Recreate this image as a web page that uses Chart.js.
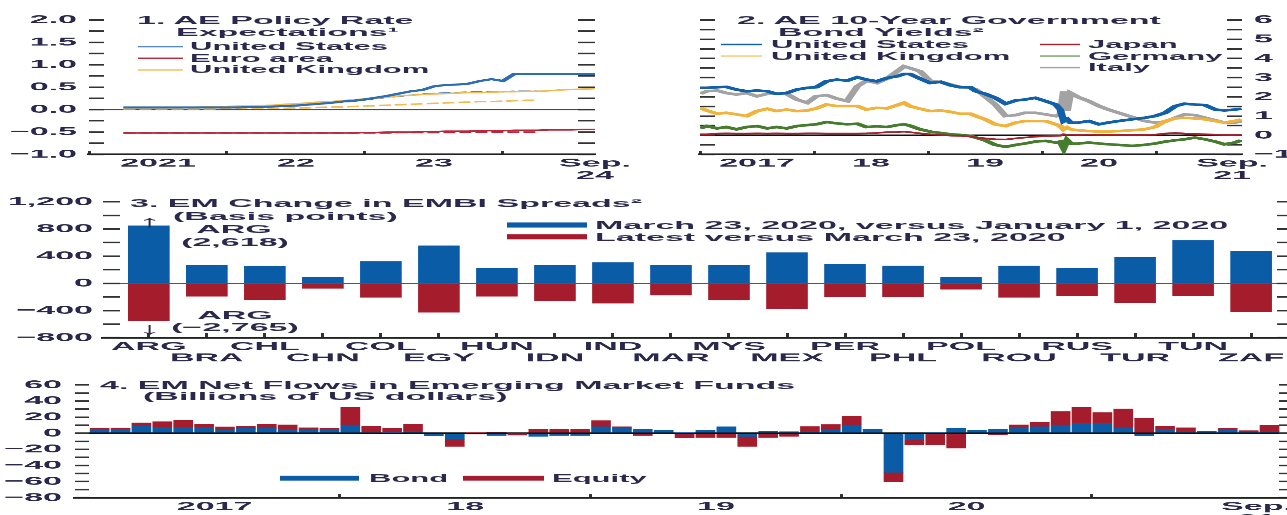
<!DOCTYPE html>
<html><head><meta charset="utf-8">
<script src="https://cdn.jsdelivr.net/npm/chart.js@4.4.0/dist/chart.umd.min.js"></script>
<style>
html,body{margin:0;padding:0;overflow:hidden;background:#fff;width:1287px;height:515px;}
#stage{position:absolute;left:0;top:0;width:1320px;transform-origin:0 0;}
.box{position:absolute;}
.txt{position:absolute;white-space:nowrap;font-family:'Liberation Sans',Arial,Helvetica,sans-serif;font-weight:bold;color:#2a284c;}
.sw{position:absolute;}
</style></head><body><div id="stage"></div>
<script>
// ================= DATA =================
// Panel 1: AE policy rate expectations (percent), monthly forward curve
const policyMonths = ['2021-04','2021-05','2021-06','2021-07','2021-08','2021-09','2021-10','2021-11','2021-12',
 '2022-01','2022-02','2022-03','2022-04','2022-05','2022-06','2022-07','2022-08','2022-09','2022-10','2022-11','2022-12',
 '2023-01','2023-02','2023-03','2023-04','2023-05','2023-06','2023-07','2023-08','2023-09','2023-10','2023-11','2023-12',
 '2024-01','2024-02','2024-03','2024-04','2024-05','2024-06','2024-07','2024-08','2024-09'];
const usNow  = [0.05,0.05,0.05,0.05,0.05,0.05,0.05,0.05,0.05, 0.05,0.05,0.06,0.06,0.07,0.08,0.09,0.11,0.13,0.15,0.18,0.20, 0.23,0.27,0.31,0.36,0.41,0.44,0.52,0.55,0.56,0.58,0.64,0.68, 0.64,0.80,0.80,0.80,0.80,0.80,0.80,0.80,0.80];
const usPrev = [0.05,0.05,0.05,0.05,0.05,0.05,0.05,0.05,0.05, 0.06,0.06,0.07,0.08,0.09,0.10,0.11,0.12,0.14,0.15,0.17,0.19, 0.22,0.25,0.28,0.30,0.32,0.35,0.36,0.37,0.38,0.39,0.39,0.40, 0.40,0.41,0.41,0.41,null,null,null,null,null];
const ukNow  = [0.02,0.03,0.03,0.04,0.04,0.05,0.05,0.06,0.06, 0.07,0.08,0.08,0.09,0.10,0.12,0.13,0.15,0.17,0.18,0.20,0.22, 0.24,0.26,0.28,0.31,0.32,0.34,0.35,0.36,0.37,0.38,0.38,0.39, 0.40,0.40,0.41,0.41,0.42,0.44,0.45,0.46,0.47];
const ukPrev = [0.02,0.02,0.02,0.02,0.02,0.02,0.02,0.02,0.02, 0.03,0.03,0.03,0.03,0.03,0.03,0.04,0.04,0.05,0.06,0.06,0.07, 0.08,0.09,0.10,0.11,0.12,0.13,0.14,0.15,0.16,0.17,0.18,0.18, 0.19,0.20,0.21,0.21,null,null,null,null,null];
const euNow  = [-0.52,-0.52,-0.52,-0.52,-0.52,-0.52,-0.52,-0.52,-0.52, -0.52,-0.52,-0.52,-0.52,-0.52,-0.52,-0.52,-0.52,-0.52,-0.52,-0.52,-0.52, -0.51,-0.51,-0.50,-0.50,-0.50,-0.49,-0.49,-0.48,-0.48,-0.48,-0.47,-0.47, -0.47,-0.46,-0.46,-0.46,-0.45,-0.45,-0.45,-0.44,-0.44];
const euPrev = [-0.52,-0.52,-0.52,-0.52,-0.52,-0.52,-0.52,-0.52,-0.52, -0.52,-0.52,-0.52,-0.52,-0.52,-0.52,-0.52,-0.52,-0.52,-0.52,-0.52,-0.52, -0.52,-0.52,-0.52,-0.51,-0.51,-0.51,-0.51,-0.51,-0.51,-0.50,-0.50,-0.50, -0.50,-0.50,-0.50,-0.50,null,null,null,null,null];
const p1YearMarks = [2021, 2022, 2023, 2024];
const p1LabelPos  = [2021.5, 2022.5, 2023.5, 2024.667];
const p1Labels    = ['2021', '22', '23', ['Sep.', '24']];

// Panel 2: AE 10-year government bond yields (percent)
const bondDates = [2017.00,2017.06,2017.15,2017.23,2017.32,2017.41,2017.50,2017.59,2017.67,2017.76,2017.85,2017.94,
 2018.02,2018.11,2018.20,2018.29,2018.38,2018.46,2018.55,2018.64,2018.73,2018.79,2018.84,2018.93,
 2019.02,2019.11,2019.20,2019.28,2019.37,2019.42,2019.50,2019.59,2019.68,2019.77,2019.85,2019.94,
 2020.03,2020.12,2020.16,2020.19,2020.22,2020.25,2020.32,2020.41,2020.50,2020.58,2020.67,2020.79,2020.90,2020.99,
 2021.08,2021.17,2021.25,2021.34,2021.43,2021.52,2021.60,2021.69,2021.75];
const yUS = [2.47,2.47,2.50,2.52,2.38,2.29,2.33,2.29,2.16,2.20,2.38,2.47,2.50,2.81,2.90,2.84,3.02,2.90,2.81,2.98,3.07,3.19,3.19,2.95,2.72,2.78,2.60,2.50,2.50,
 2.29,2.16,1.95,1.64,1.81,1.86,1.95,1.78,1.60,1.34,0.74,0.83,0.66,0.66,0.74,0.57,0.66,0.74,0.83,0.91,1.00,1.17,1.52,1.64,1.60,1.57,1.34,1.29,1.34,1.38];
const yUK = [1.43,1.29,1.12,1.17,1.09,1.00,1.26,1.38,1.26,1.34,1.26,1.29,1.40,1.60,1.52,1.52,1.52,1.34,1.43,1.40,1.57,1.69,1.52,1.38,1.26,1.29,1.22,1.12,1.12,
 1.00,0.83,0.57,0.48,0.66,0.74,0.74,0.74,0.57,0.48,0.31,0.40,0.31,0.26,0.22,0.19,0.19,0.22,0.26,0.31,0.43,0.74,0.88,0.91,0.88,0.83,0.74,0.66,0.74,0.83];
const yJP = [0.05,0.05,0.09,0.10,0.09,0.09,0.10,0.09,0.10,0.09,0.09,0.10,0.10,0.09,0.09,0.09,0.09,0.10,0.12,0.16,0.17,0.19,0.16,0.10,0.05,0.02,-0.02,-0.03,-0.07,
 -0.12,-0.16,-0.21,-0.22,-0.16,-0.12,-0.07,-0.05,-0.03,-0.02,0.05,0.02,0.03,0.02,0.03,0.02,0.02,0.02,0.02,0.02,0.03,0.09,0.12,0.09,0.07,0.05,0.03,0.02,0.02,0.03];
const yDE = [0.36,0.48,0.36,0.43,0.31,0.43,0.48,0.36,0.43,0.36,0.48,0.53,0.57,0.69,0.62,0.57,0.60,0.43,0.47,0.43,0.53,0.57,0.50,0.31,0.19,0.12,0.05,0.02,-0.03,
 -0.12,-0.26,-0.50,-0.60,-0.50,-0.43,-0.33,-0.29,-0.38,-0.33,-0.67,-0.26,-0.43,-0.43,-0.38,-0.43,-0.47,-0.50,-0.55,-0.50,-0.43,-0.33,-0.26,-0.21,-0.12,-0.21,-0.33,-0.47,-0.38,-0.26];
const yIT = [2.16,2.29,2.33,2.20,2.12,2.20,2.03,2.16,2.16,2.16,1.86,1.69,2.03,2.09,1.91,1.78,2.55,2.84,2.72,2.95,3.33,3.59,3.50,3.33,2.81,2.78,2.64,2.52,2.47,
 2.38,2.03,1.60,1.00,1.05,1.17,1.17,1.09,1.00,1.09,2.29,1.26,2.20,1.98,1.78,1.52,1.34,1.17,0.95,0.74,0.66,0.71,0.91,1.09,1.05,0.91,0.78,0.66,0.66,0.74];
const p2YearMarks = [2017, 2018, 2019, 2020, 2021];
const p2LabelPos  = [2017.5, 2018.5, 2019.5, 2020.5, 2021.667];
const p2Labels    = ['2017', '18', '19', '20', ['Sep.', '21']];

// Panel 3: EM change in EMBI spreads (basis points)
const embiCountries = ['ARG','BRA','CHL','CHN','COL','EGY','HUN','IDN','IND','MAR','MYS','MEX','PER','PHL','POL','ROU','RUS','TUR','TUN','ZAF'];
const embiMarVsJan    = [2618, 270, 255, 88, 324, 555, 221, 270, 309, 267, 267, 454, 281, 257, 89, 257, 222, 385, 632, 479];
const embiLatestVsMar = [-2765, -191, -240, -74, -206, -427, -191, -255, -294, -173, -247, -380, -198, -198, -89, -207, -183, -286, -183, -420];
const embiCapTop = 850, embiCapBottom = -550;   // axis break for ARG

// Panel 4: EM net flows in EM funds (billions of US dollars), monthly Jan 2017 - Sep 2021
const flowMonths = ['2017-01','2017-02','2017-03','2017-04','2017-05','2017-06','2017-07','2017-08','2017-09','2017-10','2017-11','2017-12',
 '2018-01','2018-02','2018-03','2018-04','2018-05','2018-06','2018-07','2018-08','2018-09','2018-10','2018-11','2018-12',
 '2019-01','2019-02','2019-03','2019-04','2019-05','2019-06','2019-07','2019-08','2019-09','2019-10','2019-11','2019-12',
 '2020-01','2020-02','2020-03','2020-04','2020-05','2020-06','2020-07','2020-08','2020-09','2020-10','2020-11','2020-12',
 '2021-01','2021-02','2021-03','2021-04','2021-05','2021-06','2021-07','2021-08','2021-09'];
const bondFlows   = [5,5,9,7.5,7.5,7.5,4,6,6,5,4,5, 10.4,1,0.8,3,-3.5,-7.5,-1,-3,-0.5,-4,-3,-3, 8.3,6,5,4,0.5,4,8.3,-4,3,2,3,4, 10.4,5,-48.7,-8.3,0.8,6,4,5,7.5,8.3,10.4,12.5, 12.5,7,-3.3,5,2,3,5,2,2];
const equityFlows = [1.5,1.5,4,7,9,4,4,3,5.5,5.5,3,1.3, 22,8,5.5,8.5,0,-9,0.5,1.5,-2,5,5,5, 7.5,2.3,-3,0,-6,-5.5,-5.5,-12.5,-5.5,-4,5.5,7, 11,0,-11.7,-6,-14.6,-18.7,0,-2,3,5.5,16.7,20, 13.3,23.4,18.7,4,5,0,1.3,1.3,8];
const p4YearMarks = [11.5, 23.5, 35.5, 47.5];
const p4LabelPos  = [5.5, 17.5, 29.5, 41.5, 55.4];
const p4Labels    = ['2017', '18', '19', '20', ['Sep.', '21']];

// ================= STYLE / LAYOUT =================
const K = 2.9;                        // vertical squash of the whole figure
const TEXT = '#2a284c', TICK = '#333', AXIS = '#222';
const FONT = "'Liberation Sans', Arial, Helvetica, sans-serif";
const BLUE = '#0b5ca6', RED = '#a51d2d';

const stage = document.getElementById('stage');
stage.style.height = (530 * K) + 'px';
stage.style.transform = 'scaleY(' + (1 / K) + ')';

Chart.defaults.font.family = FONT;
Chart.defaults.font.weight = 'bold';
Chart.defaults.font.size = 34;
Chart.defaults.color = TEXT;
Chart.defaults.animation = false;
Chart.defaults.plugins.legend.display = false;
Chart.defaults.plugins.tooltip.enabled = false;

const near = (a, b) => Math.abs(a - b) < 1e-6;
const isMult = (v, s) => near(Math.round(v / s) * s, v);
function range(a, b, s) { const r = []; const n = Math.round((b - a) / s); for (let i = 0; i <= n; i++) r.push(+(a + i * s).toFixed(6)); return r; }
const toYear = s => +s.slice(0, 4) + (+s.slice(5, 7) - 1) / 12;
const pts = (xs, ys) => xs.map((x, i) => ({ x: x, y: ys[i] })).filter(p => p.y !== null && p.y !== undefined);
const minus = v => (v < 0 ? '\u2212' : '');

function addBox(left, top, width, height) {
  const b = document.createElement('div'); b.className = 'box';
  b.style.left = left + 'px'; b.style.top = (top * K) + 'px';
  b.style.width = width + 'px'; b.style.height = (height * K) + 'px';
  const c = document.createElement('canvas');
  c.width = width; c.height = Math.round(height * K);
  b.appendChild(c); stage.appendChild(b); return c;
}
function addText(str, x, yc, size, opt) {
  opt = opt || {};
  const d = document.createElement('div'); d.className = 'txt';
  const lh = size * 1.15;
  d.style.fontSize = size + 'px'; d.style.lineHeight = lh + 'px';
  d.style.top = (yc * K - lh / 2) + 'px'; d.style.left = x + 'px';
  if (opt.center) d.style.transform = 'translateX(-50%)';
  if (opt.weight) d.style.fontWeight = opt.weight;
  d.textContent = str; stage.appendChild(d); return d;
}
function addSwatch(x1, x2, yc, h, color) {
  const d = document.createElement('div'); d.className = 'sw';
  d.style.left = x1 + 'px'; d.style.width = (x2 - x1) + 'px';
  d.style.top = (yc * K - h / 2) + 'px'; d.style.height = h + 'px'; d.style.background = color;
  stage.appendChild(d);
}

function yAxis(o) {
  return {
    type: 'linear', position: o.pos, min: o.min, max: o.max, z: o.z || 0,
    afterBuildTicks: s => { s.ticks = range(o.min, o.max, o.step).map(v => ({ value: v })); },
    ticks: {
      display: !!o.fmt, autoSkip: false, padding: (o.gap || 0) + o.tick, color: TEXT,
      font: { size: 34, weight: 'bold' },
      callback: v => (o.fmt && isMult(v, o.labelStep)) ? o.fmt(v) : ''
    },
    grid: {
      drawOnChartArea: !!o.zero, drawTicks: true, tickLength: -o.tick, tickColor: TICK, tickWidth: 4.5,
      color: c => (o.zero && c.tick && near(c.tick.value, 0)) ? o.zero.color : 'rgba(0,0,0,0)',
      lineWidth: c => (o.zero && c.tick && near(c.tick.value, 0)) ? o.zero.width : 0
    },
    border: { display: false },
    afterFit: s => { s.width = o.width; s.paddingTop = 0; s.paddingBottom = 0; }
  };
}
function xAxis(o) {
  const vals = Array.from(new Set(o.marks.concat(o.labelPos))).sort((a, b) => a - b);
  const lh = 34 * o.lh;
  return {
    type: 'linear', position: 'bottom', min: o.min, max: o.max, offset: false, stacked: !!o.stacked,
    afterBuildTicks: s => { s.ticks = vals.map(v => ({ value: v })); },
    ticks: {
      autoSkip: false, maxRotation: 0, minRotation: 0, color: TEXT,
      padding: 26 + o.tick - lh / 2,
      font: { size: 34, weight: 'bold', lineHeight: o.lh },
      callback: v => { const i = o.labelPos.findIndex(p => near(p, v)); return i >= 0 ? o.labels[i] : ''; }
    },
    grid: {
      offset: false, drawOnChartArea: false, drawTicks: true, tickLength: -o.tick, tickWidth: 3,
      tickColor: c => (c.tick && o.marks.some(m => near(m, c.tick.value))) ? TICK : 'rgba(0,0,0,0)'
    },
    border: { display: true, color: AXIS, width: 5 },
    afterFit: s => { s.height = o.height; s.paddingLeft = 0; s.paddingRight = 0; }
  };
}

// ================= PANEL 1 =================
const pm = policyMonths.map(toYear);
const c1 = addBox(0, 0, 640, 185);
new Chart(c1, {
  type: 'line',
  data: { datasets: [
    { data: pts(pm, usNow),  borderColor: '#2d6db5', borderWidth: 6 },
    { data: pts(pm, ukNow),  borderColor: '#f3bb55', borderWidth: 4.5 },
    { data: pts(pm, euNow),  borderColor: '#b8283a', borderWidth: 4.5 },
    { data: pts(pm, usPrev), borderColor: '#2d6db5', borderWidth: 4.5, borderDash: [12, 4] },
    { data: pts(pm, ukPrev), borderColor: '#f3bb55', borderWidth: 4.5, borderDash: [12, 4] },
    { data: pts(pm, euPrev), borderColor: '#b8283a', borderWidth: 4.5, borderDash: [12, 4] }
  ] },
  options: {
    responsive: false, layout: { padding: { top: 20 * K, left: 0, right: 0, bottom: 0 }, autoPadding: false },
    elements: { point: { radius: 0 }, line: { tension: 0, borderCapStyle: 'butt' } },
    scales: {
      x: xAxis({ min: 2021, max: 2024.667, marks: p1YearMarks, labelPos: p1LabelPos, labels: p1Labels, tick: 10, lh: 1.05, height: (185 - 154.3) * K }),
      y: yAxis({ pos: 'left', min: -1, max: 2, step: 0.25, labelStep: 0.5, fmt: v => minus(v) + Math.abs(v).toFixed(1), tick: 15, gap: 12, width: 89, zero: { color: '#4a4a4a', width: 4 } }),
      yR: yAxis({ pos: 'right', min: -1, max: 2, step: 0.25, tick: 17, width: 45 })
    }
  }
});
addText('1. AE Policy Rate', 137, 20, 34);
addText('Expectations\u00B9', 176, 32, 34);
[['United States', '#2d6db5', 46.7], ['Euro area', '#b8283a', 58.3], ['United Kingdom', '#f3bb55', 70]].forEach(r => {
  addSwatch(138, 183, r[2], 3.5, r[1]); addText(r[0], 190, r[2], 31);
});

// ================= PANEL 2 =================
const c2 = addBox(640, 0, 660, 185);
new Chart(c2, {
  type: 'line',
  data: { datasets: [
    { data: pts(bondDates, yUS), borderColor: '#1161aa', borderWidth: 7.5 },
    { data: pts(bondDates, yUK), borderColor: '#f2b33d', borderWidth: 7.5 },
    { data: pts(bondDates, yJP), borderColor: '#a3232e', borderWidth: 5 },
    { data: pts(bondDates, yDE), borderColor: '#467c2e', borderWidth: 7.5 },
    { data: pts(bondDates, yIT), borderColor: '#a3a3a3', borderWidth: 7.5 }
  ] },
  options: {
    responsive: false, layout: { padding: { top: 20 * K, left: 0, right: 0, bottom: 0 }, autoPadding: false },
    elements: { point: { radius: 0 }, line: { tension: 0 } },
    scales: {
      x: xAxis({ min: 2017, max: 2021.754, marks: p2YearMarks, labelPos: p2LabelPos, labels: p2Labels, tick: 10, lh: 1.05, height: (185 - 154.3) * K }),
      y: yAxis({ pos: 'left', min: -1, max: 6, step: 0.5, tick: 15, width: 60, zero: { color: '#111', width: 4.5 } }),
      yR: yAxis({ pos: 'right', min: -1, max: 6, step: 0.5, labelStep: 1, fmt: v => minus(v) + Math.abs(v), tick: 15, gap: 12, width: 58 })
    }
  }
});
addText('2. AE 10-Year Government', 737, 20, 34);
addText('Bond Yields\u00B2', 778, 32, 34);
[['United States', '#1161aa', 721, 762, 771, 44.5], ['United Kingdom', '#f2b33d', 721, 762, 771, 56],
 ['Japan', '#a3232e', 1040, 1080, 1088, 44.5], ['Germany', '#467c2e', 1040, 1080, 1088, 56], ['Italy', '#a3a3a3', 1040, 1080, 1088, 67.5]].forEach(r => {
  addSwatch(r[2], r[3], r[5], 3.5, r[1]); addText(r[0], r[4], r[5], 31);
});

// ================= PANEL 3 =================
const c3 = addBox(0, 190, 1300, 178);
const idx3 = embiCountries.map((c, i) => i);
new Chart(c3, {
  type: 'bar',
  data: { datasets: [
    { data: pts(idx3, embiMarVsJan.map(v => Math.min(v, embiCapTop))), backgroundColor: BLUE, barThickness: 41 },
    { data: pts(idx3, embiLatestVsMar.map(v => Math.max(v, embiCapBottom))), backgroundColor: RED, barThickness: 41 }
  ] },
  options: {
    responsive: false, layout: { padding: { top: (201.8 - 190) * K, left: 0, right: 0, bottom: 0 }, autoPadding: false },
    scales: {
      x: xAxis({ min: -0.79, max: 19.67, marks: idx3, labelPos: idx3, stacked: true,
            labels: embiCountries.map((c, i) => i % 2 === 0 ? [c, ''] : ['', c]), tick: 14, lh: 0.98, height: (368 - 337.8) * K }),
      y: Object.assign(yAxis({ pos: 'left', min: -800, max: 1200, step: 200, labelStep: 400,
            fmt: v => minus(v) + Math.abs(v).toLocaleString('en-US'), tick: 17, gap: 10, width: 103, z: 1, zero: { color: '#555', width: 4 } }), { stacked: true }),
      yR: yAxis({ pos: 'right', min: -800, max: 1200, step: 200, tick: 13, width: 10 })
    }
  }
});
addText('3. EM Change in EMBI Spreads\u00B2', 130, 203, 34);
addText('(Basis points)', 173, 215.7, 34);
addSwatch(507, 587, 225, 14.5, BLUE); addText('March 23, 2020, versus January 1, 2020', 595, 225.5, 34);
addSwatch(507, 587, 236.7, 14.5, RED); addText('Latest versus March 23, 2020', 595, 237.3, 34);
const fmtBp = v => '(' + minus(v) + Math.abs(v).toLocaleString('en-US') + ')';
addText(embiCountries[0], 234, 229.5, 34, { center: true });
addText(fmtBp(embiMarVsJan[0]), 235, 241.5, 34, { center: true });
addText(embiCountries[0], 235, 315, 34, { center: true });
addText(fmtBp(embiLatestVsMar[0]), 235, 327, 34, { center: true });
addText('\u2191', 149, 221, 48, { center: true });
addText('\u2193', 149, 328, 48, { center: true });

// ================= PANEL 4 =================
const c4 = addBox(0, 368, 1300, 160);
const idx4 = flowMonths.map((m, i) => i);
new Chart(c4, {
  type: 'bar',
  data: { datasets: [
    { data: pts(idx4, bondFlows), backgroundColor: BLUE, barThickness: 19 },
    { data: pts(idx4, equityFlows), backgroundColor: RED, barThickness: 19 }
  ] },
  options: {
    responsive: false, layout: { padding: { top: (385 - 368) * K, left: 0, right: 0, bottom: 0 }, autoPadding: false },
    scales: {
      x: xAxis({ min: -1.18, max: 56.98, marks: p4YearMarks, labelPos: p4LabelPos, labels: p4Labels, stacked: true, tick: 10, lh: 1.05, height: (528 - 497.7) * K }),
      y: Object.assign(yAxis({ pos: 'left', min: -80, max: 60, step: 10, labelStep: 20, fmt: v => minus(v) + Math.abs(v),
            tick: 14, gap: 13, width: 75, z: 1, zero: { color: '#111', width: 5 } }), { stacked: true }),
      yR: yAxis({ pos: 'right', min: -80, max: 60, step: 10, tick: 11, width: 10 })
    }
  }
});
addText('4. EM Net Flows in Emerging Market Funds', 100, 385, 34);
addText('(Billions of US dollars)', 143, 396, 34);
addSwatch(280, 359, 478.3, 14.5, BLUE); addText('Bond', 369, 478.3, 31);
addSwatch(463, 544, 478.3, 14.5, RED); addText('Equity', 552, 478.3, 31);
</script>
</body></html>
